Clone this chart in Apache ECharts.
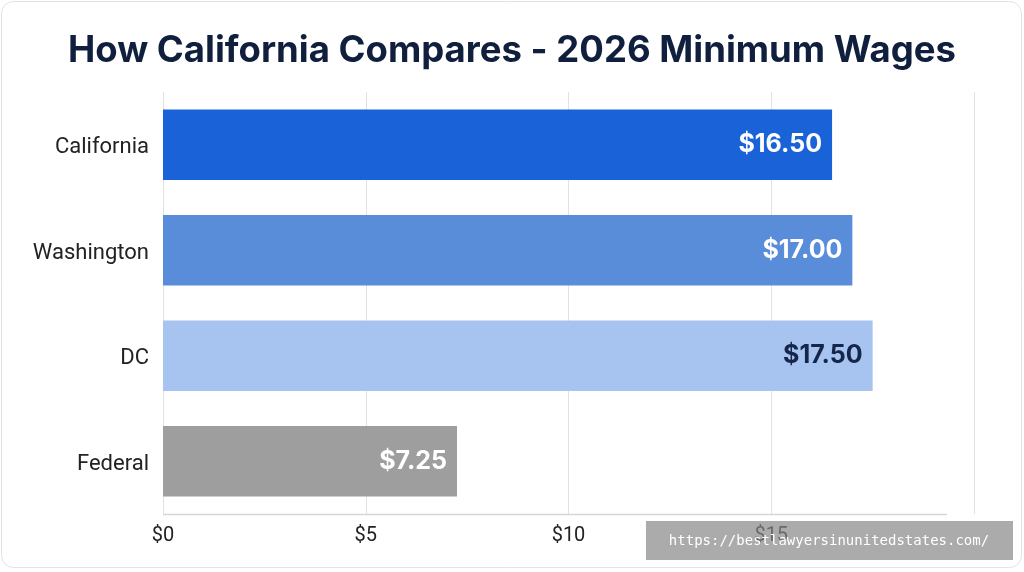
<!DOCTYPE html>
<html>
<head>
<meta charset="utf-8">
<script src="https://cdn.jsdelivr.net/npm/echarts@6/dist/echarts.min.js"></script>
<style>
html,body{margin:0;padding:0;background:#fff;}
#chart{width:1024px;height:572px;}
</style>
</head>
<body>
<div id="chart"></div>
<script>
const categories = ["California", "Washington", "DC", "Federal"];
const wages = [16.50, 17.00, 17.50, 7.25];
const barColors = ["#1a62d8", "#5a8dd9", "#a6c4ef", "#9e9e9e"];
const labelColors = ["#ffffff", "#ffffff", "#15264a", "#ffffff"];
const xTicks = [0, 5, 10, 15, 20];

const chart = echarts.init(document.getElementById('chart'));
chart.setOption({
  backgroundColor: '#ffffff',
  animation: false,
  title: {
    text: 'How California Compares - 2026 Minimum Wages',
    left: 'center',
    top: 28,
    textStyle: {fontFamily: 'Inter', fontWeight: 'bold', fontSize: 36.5, color: '#0f1f3d'}
  },
  grid: {left: 163, right: 50, top: 92, bottom: 58, containLabel: false},
  xAxis: {
    type: 'value', min: 0, max: 20, interval: 5,
    axisLine: {show: false},
    axisTick: {show: false},
    splitLine: {show: true, lineStyle: {color: '#e2e2e2', width: 1}},
    axisLabel: {
      showMaxLabel: false,
      margin: 12,
      fontFamily: 'Roboto', fontSize: 20, color: '#222',
      formatter: v => xTicks.includes(v) ? '$' + v : ''
    }
  },
  yAxis: {
    type: 'category', data: categories, inverse: true,
    axisLine: {show: false},
    axisTick: {show: false},
    axisLabel: {margin: 14, fontFamily: 'Roboto', fontSize: 22, color: '#222', lineHeight: 28, verticalAlign: 'top', padding: [-11, 0, 0, 0]}
  },
  series: [{
    type: 'bar',
    barCategoryGap: '33%',
    data: wages.map((v, i) => ({
      value: v,
      itemStyle: {color: barColors[i]},
      label: {color: labelColors[i]}
    })),
    label: {
      show: true, position: 'insideRight', distance: 10,
      fontFamily: 'Inter', fontWeight: 'bold', fontSize: 25,
      formatter: p => '$' + p.value.toFixed(2)
    }
  }],
  graphic: [
    {type: 'rect', shape: {x: 1.5, y: 1.5, width: 1020, height: 566, r: 12}, style: {fill: 'none', stroke: '#e3e3e3', lineWidth: 1}, z: -10},
    {type: 'line', shape: {x1: 163, y1: 514.5, x2: 947, y2: 514.5}, style: {stroke: '#d6d6d6', lineWidth: 1.5}, z: 5},
    {type: 'rect', shape: {x: 646, y: 521, width: 367, height: 39}, style: {fill: '#888888', opacity: 0.7}, z: 100},
    {type: 'text', x: 829, y: 541, style: {text: 'https://bestlawyersinunitedstates.com/', fill: '#ffffff', font: '14px "DejaVu Sans Mono"', textAlign: 'center', textVerticalAlign: 'middle'}, z: 101}
  ]
});
</script>
</body>
</html>
